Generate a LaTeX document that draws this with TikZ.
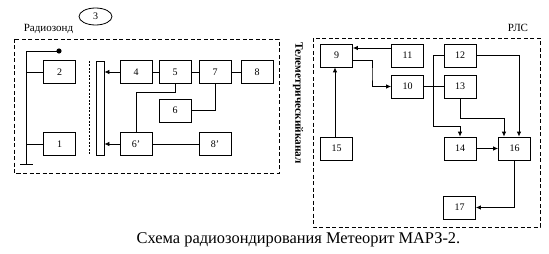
\documentclass[tikz,border=0pt]{standalone}
\usepackage{fontspec}
\setmainfont{Liberation Serif}
\usetikzlibrary{arrows.meta,calc,shapes.geometric}
\begin{document}
\begin{tikzpicture}[x=1pt,y=-1pt,
  box/.style={draw,line width=0.8pt,minimum width=32pt,minimum height=23pt,inner sep=0pt,font=\fontsize{10}{12}\selectfont},
  conn/.style={line width=0.8pt},
  arr/.style={conn,-{Latex[length=5pt,width=4.5pt]}},
  frame/.style={draw,line width=0.8pt,dash pattern=on 4pt off 2.5pt},
  lbl/.style={inner sep=0pt,font=\fontsize{11}{13}\selectfont}]
\useasboundingbox (0,0) rectangle (549,254);
% frames
\draw[frame] (14,39) rectangle (279,173);
\draw[frame] (313,38) rectangle (540,227);
% labels
\node[lbl] (lradio) at (48.5,29) {Радиозонд};
\node[draw,ellipse,line width=0.8pt,minimum width=33pt,minimum height=17pt,inner sep=0pt,font=\fontsize{10}{12}\selectfont] (n3) at (95.5,16.5) {3};
\node[lbl] (lrls) at (518,28) {РЛС};
\node[rotate=-90,inner sep=0pt,font=\bfseries\fontsize{11.3}{14}\selectfont] (tk) at (298,103) {Телеметрическийканал};
\node[inner sep=0pt,font=\fontsize{16.4}{19}\selectfont] (cap) at (298.5,240) {Схема радиозондирования Метеорит МАРЗ-2.};
% left boxes
\node[box] (n2) at (59.5,72) {2};
\node[box] (n1) at (59.5,144) {1};
\node[draw,line width=0.8pt,minimum width=8pt,minimum height=94pt,inner sep=0pt] (bar) at (100,108) {};
\node[box] (n4) at (136,72) {4};
\node[box] (n5) at (175,72) {5};
\node[box] (n7) at (215,72) {7};
\node[box] (n8) at (257,72) {8};
\node[box] (n6) at (175,110.5) {6};
\node[box] (n6p) at (136,144) {6’};
\node[box] (n8p) at (215,144) {8’};
% antenna
\coordinate (atop) at (26,51);
\coordinate (dot) at (59,51);
\coordinate (gnd) at (26,164);
\coordinate (gl) at (20,164);
\coordinate (gr) at (33,164);
\draw[conn] (gnd) -- (atop) -- (dot);
\fill (dot) circle (2.6);
\draw[conn] (gl) -- (gr);
\draw[conn] (n2.west) -- (n2.west -| atop);
\draw[conn] (n1.west) -- (n1.west -| atop);
% dotted separator
\coordinate (s1) at (89,61);
\coordinate (s2) at (89,155);
\draw[line width=0.8pt,dash pattern=on 2pt off 1.5pt] (s1) -- (s2);
% left connectors
\draw[arr] (n4.west) -- (n4.west -| bar.east);
\draw[arr] (n6p.west) -- (n6p.west -| bar.east);
\draw[conn] (n4.east) -- (n5.west);
\draw[conn] (n5.east) -- (n7.west);
\draw[conn] (n7.east) -- (n8.west);
\coordinate (k1) at (175,92);
\draw[conn] (n5.south) -- (k1) -| (n6p.north);
\draw[conn] (n7.south) |- (n6.east);
\draw[conn] (n6p.east) -- (n8p.west);
% right boxes
\node[box] (n9) at (336.5,55.5) {9};
\node[box] (n11) at (407.5,55.5) {11};
\node[box] (n12) at (460,55.5) {12};
\node[box] (n10) at (407.5,86.5) {10};
\node[box] (n13) at (460,86.5) {13};
\node[box] (n15) at (336.5,148.5) {15};
\node[box] (n14) at (460,148.5) {14};
\node[box] (n16) at (514.5,148.5) {16};
\node[box] (n17) at (459.5,207.5) {17};
% right connectors
\draw[arr] ([yshift=7.5pt]n11.west) -- ([yshift=7.5pt]n11.west -| n9.east);
\coordinate (k2) at (372,75);
\draw[arr] ([yshift=-4.5pt]n9.east) -| (k2) |- (n10.west);
\draw[conn] (n10.east) -- (n13.west);
\coordinate (k3) at (433,126);
\draw[arr] (n12.west) -| (k3) -| (n14.north);
\draw[arr] (n12.east) -| ([xshift=4.5pt]n16.north);
\coordinate (k4) at (504,118);
\draw[arr] (n13.south) |- (k4) -- (k4 |- n16.north);
\draw[arr] (n14.east) -- (n16.west);
\draw[arr] (n16.south) |- (n17.east);
\draw[arr] ([xshift=-1.5pt]n15.north) -- ([xshift=-1.5pt]n9.south);
\end{tikzpicture}
\end{document}
